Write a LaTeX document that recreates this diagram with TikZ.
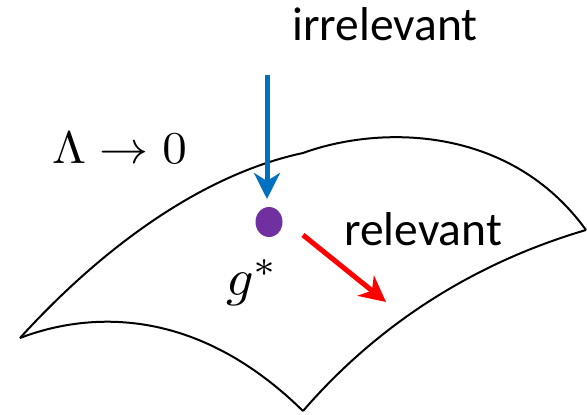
\documentclass[tikz,border=0pt]{standalone}
\usepackage{fontspec}
\newfontfamily\carlito{Carlito}
\usetikzlibrary{arrows.meta,shapes.geometric}
\definecolor{flowblue}{HTML}{0070C0}
\definecolor{fixpurple}{HTML}{7030A0}
\definecolor{flowred}{HTML}{FF0000}
\tikzset{
  surf/.style={line width=2pt, black, line join=round},
  flowarrow/.style={line width=5pt, -{Stealth[length=26pt, width=26pt, inset=8pt]}},
  lbl/.style={inner sep=0pt, anchor=base west, font=\carlito\fontsize{47.5}{52}\selectfont},
  mathlbl/.style={inner sep=0pt, anchor=base west}
}
\begin{document}
\begin{tikzpicture}[x=1pt, y=-1pt]
\useasboundingbox (0,0) rectangle (587,415);
% surface corners
\coordinate (cl) at (20,338);
\coordinate (ct) at (303,153);
\coordinate (cr) at (586,230);
\coordinate (cb) at (303,411);
% surface
\draw[surf] (cl) .. controls (100,250) and (200,175) .. (ct)
  .. controls (380,125) and (510,125) .. (cr);
\draw[surf] (cl) .. controls (80,315) and (190,300) .. (cb);
\draw[surf] (cb) .. controls (360,345) and (450,270) .. (cr);
% fixed point
\node[ellipse, fill=fixpurple, minimum width=27pt, minimum height=30pt, inner sep=0pt] (gstar) at (269,222) {};
\node[mathlbl] (glabel) at (226,295) {\scalebox{5.4}[5.2]{$g^*$}};
% arrows
\coordinate (irrstart) at (267,75);
\coordinate (irrend) at (267,199);
\draw[flowarrow, flowblue] (irrstart) -- (irrend);
\coordinate (relstart) at (303,235);
\coordinate (relend) at (386,302);
\draw[flowarrow, flowred] (relstart) -- (relend);
% labels
\node[lbl] (irr) at (292,40) {irrelevant};
\node[lbl] (rel) at (344,245) {relevant};
\node[mathlbl] (lam) at (52,163) {\scalebox{4.9}[4.55]{$\Lambda\to 0$}};
\end{tikzpicture}
\end{document}
